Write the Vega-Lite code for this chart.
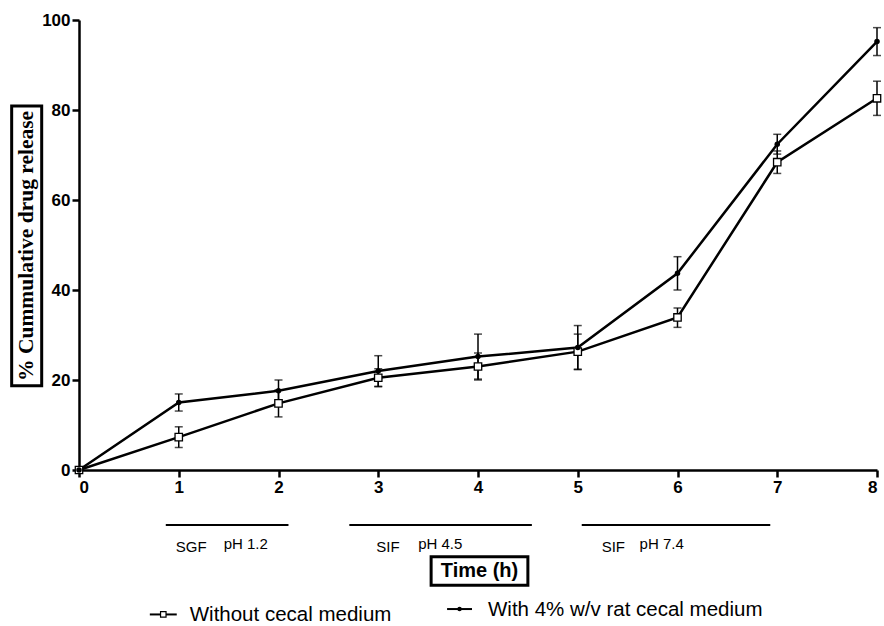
{
  "$schema": "https://vega.github.io/schema/vega-lite/v6.json",
  "width": 798,
  "height": 450,
  "autosize": "none",
  "padding": {"left": 79, "top": 20, "right": 7, "bottom": 156},
  "background": "white",
  "config": {
    "view": {"stroke": null},
    "axis": {
      "grid": false,
      "domainColor": "black",
      "domainWidth": 2.5,
      "tickColor": "black",
      "tickWidth": 2.5,
      "tickSize": 7,
      "labelColor": "black",
      "labelFont": "Liberation Sans",
      "labelFontWeight": "bold",
      "labelFontSize": 17,
      "labelPadding": 2,
      "title": null
    }
  },
  "datasets": {
    "release": [
      {"time": 0, "series": "Without cecal medium", "mean": 0, "lo": 0, "hi": 0},
      {"time": 1, "series": "Without cecal medium", "mean": 7.3, "lo": 5.0, "hi": 9.6},
      {"time": 2, "series": "Without cecal medium", "mean": 14.8, "lo": 11.8, "hi": 17.8},
      {"time": 3, "series": "Without cecal medium", "mean": 20.5, "lo": 18.5, "hi": 22.5},
      {"time": 4, "series": "Without cecal medium", "mean": 23.0, "lo": 20.0, "hi": 26.0},
      {"time": 5, "series": "Without cecal medium", "mean": 26.3, "lo": 22.4, "hi": 30.2},
      {"time": 6, "series": "Without cecal medium", "mean": 33.9, "lo": 31.7, "hi": 36.0},
      {"time": 7, "series": "Without cecal medium", "mean": 68.4, "lo": 65.9, "hi": 70.9},
      {"time": 8, "series": "Without cecal medium", "mean": 82.6, "lo": 78.8, "hi": 86.4},
      {"time": 0, "series": "With 4% w/v rat cecal medium", "mean": 0, "lo": 0, "hi": 0},
      {"time": 1, "series": "With 4% w/v rat cecal medium", "mean": 15.0, "lo": 13.1, "hi": 16.9},
      {"time": 2, "series": "With 4% w/v rat cecal medium", "mean": 17.6, "lo": 15.2, "hi": 20.0},
      {"time": 3, "series": "With 4% w/v rat cecal medium", "mean": 22.0, "lo": 18.6, "hi": 25.4},
      {"time": 4, "series": "With 4% w/v rat cecal medium", "mean": 25.2, "lo": 20.2, "hi": 30.2},
      {"time": 5, "series": "With 4% w/v rat cecal medium", "mean": 27.2, "lo": 22.3, "hi": 32.1},
      {"time": 6, "series": "With 4% w/v rat cecal medium", "mean": 43.7, "lo": 40.0, "hi": 47.4},
      {"time": 7, "series": "With 4% w/v rat cecal medium", "mean": 72.4, "lo": 70.2, "hi": 74.6},
      {"time": 8, "series": "With 4% w/v rat cecal medium", "mean": 95.2, "lo": 92.1, "hi": 98.3}
    ],
    "phases": [
      {"start": 0.87, "end": 2.1, "level": -12.2},
      {"start": 2.71, "end": 4.54, "level": -12.2},
      {"start": 5.04, "end": 6.93, "level": -12.2}
    ],
    "phaseMedium": [
      {"px": 0.97, "py": -17.0, "label": "SGF"},
      {"px": 2.98, "py": -17.0, "label": "SIF"},
      {"px": 5.24, "py": -17.0, "label": "SIF"}
    ],
    "phasePH": [
      {"px": 1.45, "py": -16.4, "label": "pH 1.2"},
      {"px": 3.40, "py": -16.4, "label": "pH 4.5"},
      {"px": 5.62, "py": -16.4, "label": "pH 7.4"}
    ],
    "boxes": [
      {"bx": 3.53, "bx2": 4.50, "by": -19.3, "by2": -25.6},
      {"bx": -0.675, "bx2": -0.374, "by": 80.9, "by2": 18.7}
    ],
    "xtitle": [{"px": 4.015, "py": -22.5, "label": "Time (h)"}],
    "ytitle": [{"px": -0.525, "py": 49.8, "label": "% Cummulative drug release"}],
    "legendLines": [
      {"lx": 0.71, "lx2": 0.98, "ly": -32.1},
      {"lx": 3.69, "lx2": 3.94, "ly": -30.9}
    ],
    "legendSquare": [{"px": 0.845, "py": -32.1}],
    "legendDot": [{"px": 3.815, "py": -30.9}],
    "legendText": [
      {"px": 1.11, "py": -33.6, "label": "Without cecal medium"},
      {"px": 4.10, "py": -32.4, "label": "With 4% w/v rat cecal medium"}
    ]
  },
  "layer": [
    {
      "data": {"name": "release"},
      "mark": {"type": "line", "color": "black", "strokeWidth": 2.5},
      "encoding": {
        "x": {"field": "time", "type": "quantitative", "scale": {"domain": [0, 8], "nice": false}, "axis": {"values": [0, 1, 2, 3, 4, 5, 6, 7, 8], "format": "d"}},
        "y": {"field": "mean", "type": "quantitative", "scale": {"domain": [0, 100], "nice": false}, "axis": {"values": [0, 20, 40, 60, 80, 100], "format": "d"}},
        "detail": {"field": "series"}
      }
    },
    {
      "data": {"name": "release"},
      "mark": {"type": "rule", "color": "black", "strokeWidth": 1.5},
      "encoding": {
        "x": {"field": "time", "type": "quantitative"},
        "y": {"field": "lo", "type": "quantitative"},
        "y2": {"field": "hi"}
      }
    },
    {
      "data": {"name": "release"},
      "transform": [{"filter": "datum.time > 0"}],
      "mark": {"type": "tick", "orient": "horizontal", "color": "black", "size": 8, "thickness": 1.5},
      "encoding": {
        "x": {"field": "time", "type": "quantitative"},
        "y": {"field": "lo", "type": "quantitative"}
      }
    },
    {
      "data": {"name": "release"},
      "transform": [{"filter": "datum.time > 0"}],
      "mark": {"type": "tick", "orient": "horizontal", "color": "black", "size": 8, "thickness": 1.5},
      "encoding": {
        "x": {"field": "time", "type": "quantitative"},
        "y": {"field": "hi", "type": "quantitative"}
      }
    },
    {
      "data": {"name": "release"},
      "transform": [{"filter": "datum.series == 'Without cecal medium'"}],
      "mark": {"type": "point", "shape": "square", "filled": true, "fill": "white", "stroke": "black", "strokeWidth": 1.3, "size": 55, "opacity": 1},
      "encoding": {
        "x": {"field": "time", "type": "quantitative"},
        "y": {"field": "mean", "type": "quantitative"}
      }
    },
    {
      "data": {"name": "release"},
      "transform": [{"filter": "datum.series != 'Without cecal medium'"}],
      "mark": {"type": "point", "shape": "circle", "filled": true, "color": "black", "size": 30, "opacity": 1},
      "encoding": {
        "x": {"field": "time", "type": "quantitative"},
        "y": {"field": "mean", "type": "quantitative"}
      }
    },
    {
      "data": {"name": "phases"},
      "mark": {"type": "rule", "color": "black", "strokeWidth": 2},
      "encoding": {
        "x": {"field": "start", "type": "quantitative"},
        "x2": {"field": "end"},
        "y": {"field": "level", "type": "quantitative"}
      }
    },
    {
      "data": {"name": "phaseMedium"},
      "mark": {"type": "text", "align": "left", "baseline": "middle", "font": "Liberation Sans", "fontSize": 15, "color": "black"},
      "encoding": {
        "x": {"field": "px", "type": "quantitative"},
        "y": {"field": "py", "type": "quantitative"},
        "text": {"field": "label"}
      }
    },
    {
      "data": {"name": "phasePH"},
      "mark": {"type": "text", "align": "left", "baseline": "middle", "font": "Liberation Sans", "fontSize": 15, "color": "black"},
      "encoding": {
        "x": {"field": "px", "type": "quantitative"},
        "y": {"field": "py", "type": "quantitative"},
        "text": {"field": "label"}
      }
    },
    {
      "data": {"name": "boxes"},
      "mark": {"type": "rect", "fill": "white", "stroke": "black", "strokeWidth": 3},
      "encoding": {
        "x": {"field": "bx", "type": "quantitative"},
        "x2": {"field": "bx2"},
        "y": {"field": "by", "type": "quantitative"},
        "y2": {"field": "by2"}
      }
    },
    {
      "data": {"name": "xtitle"},
      "mark": {"type": "text", "align": "center", "baseline": "middle", "font": "Liberation Sans", "fontWeight": "bold", "fontSize": 20, "color": "black"},
      "encoding": {
        "x": {"field": "px", "type": "quantitative"},
        "y": {"field": "py", "type": "quantitative"},
        "text": {"field": "label"}
      }
    },
    {
      "data": {"name": "ytitle"},
      "mark": {"type": "text", "align": "center", "baseline": "middle", "angle": 270, "font": "Liberation Serif", "fontWeight": "bold", "fontSize": 21.5, "color": "black"},
      "encoding": {
        "x": {"field": "px", "type": "quantitative"},
        "y": {"field": "py", "type": "quantitative"},
        "text": {"field": "label"}
      }
    },
    {
      "data": {"name": "legendLines"},
      "mark": {"type": "rule", "color": "black", "strokeWidth": 2},
      "encoding": {
        "x": {"field": "lx", "type": "quantitative"},
        "x2": {"field": "lx2"},
        "y": {"field": "ly", "type": "quantitative"}
      }
    },
    {
      "data": {"name": "legendSquare"},
      "mark": {"type": "point", "shape": "square", "filled": true, "fill": "white", "stroke": "black", "strokeWidth": 1.2, "size": 30, "opacity": 1},
      "encoding": {
        "x": {"field": "px", "type": "quantitative"},
        "y": {"field": "py", "type": "quantitative"}
      }
    },
    {
      "data": {"name": "legendDot"},
      "mark": {"type": "point", "shape": "circle", "filled": true, "color": "black", "size": 20, "opacity": 1},
      "encoding": {
        "x": {"field": "px", "type": "quantitative"},
        "y": {"field": "py", "type": "quantitative"}
      }
    },
    {
      "data": {"name": "legendText"},
      "mark": {"type": "text", "align": "left", "baseline": "alphabetic", "font": "Liberation Sans", "fontSize": 20.5, "color": "black"},
      "encoding": {
        "x": {"field": "px", "type": "quantitative"},
        "y": {"field": "py", "type": "quantitative"},
        "text": {"field": "label"}
      }
    }
  ]
}
